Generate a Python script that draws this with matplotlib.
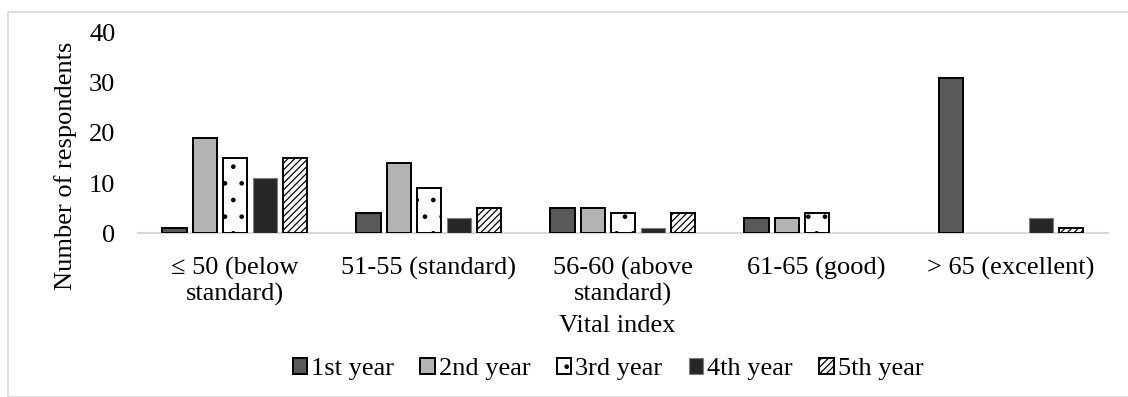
import matplotlib
matplotlib.use("Agg")
import matplotlib.pyplot as plt
import numpy as np

categories = ["\u2264 50 (below\nstandard)", "51-55 (standard)", "56-60 (above\nstandard)",
              "61-65 (good)", "> 65 (excellent)"]
series = ["1st year", "2nd year", "3rd year", "4th year", "5th year"]
year1 = [1, 4, 5, 3, 31]
year2 = [19, 14, 5, 3, 0]
year3 = [15, 9, 4, 4, 0]
year4 = [11, 3, 1, 0, 3]
year5 = [15, 5, 4, 0, 1]
values = [year1, year2, year3, year4, year5]

faces = ["#595959", "#b3b3b3", "white", "#262626", "white"]
edges = ["black", "black", "black", "#7f7f7f", "black"]
hatches = [None, None, ".", None, "/////"]

plt.rcParams["font.family"] = ["Liberation Serif", "DejaVu Serif"]
plt.rcParams["hatch.linewidth"] = 0.9
FS = 19

fig = plt.figure(figsize=(11.28, 3.97), dpi=100)
fig.patches.append(plt.Rectangle((8 / 1128, 0), 1.0, 1 - 12 / 397, transform=fig.transFigure,
                                 fill=False, edgecolor="#d9d9d9", linewidth=1.2))
ax = fig.add_axes([0.122, 0.413, 0.860, 0.504])

x = np.arange(len(categories))
w = 0.124
step = 0.155
for i, (vals, name) in enumerate(zip(values, series)):
    off = (i - 2) * step
    v = np.array(vals, dtype=float)
    v[v == 0] = np.nan  # Excel draws nothing for zero values
    ax.bar(x + off, v, w, color=faces[i], edgecolor=edges[i],
           linewidth=1.4 if i != 3 else 0.8, hatch=hatches[i], label=name, zorder=3)

ax.set_xlim(-0.5, len(categories) - 0.5)
ax.set_ylim(0, 40)
ax.set_yticks([0, 10, 20, 30, 40])
ax.set_xticks(x)
ax.set_xticklabels(categories, linespacing=1.2)
ax.tick_params(axis="both", length=0, labelsize=FS)
ax.tick_params(axis="y", pad=16)
ax.tick_params(axis="x", pad=17)
for s in ["top", "right", "left"]:
    ax.spines[s].set_visible(False)
ax.spines["bottom"].set_color("#d9d9d9")
ax.spines["bottom"].set_linewidth(1.5)

fig.text(66 / 1128, 1 - 166 / 397, "Number of respondents", rotation=90,
         ha="center", va="center", fontsize=FS)
fig.text(0.5 * (0.122 + 0.982) - 0.005, 1 - 326 / 397, "Vital index",
         ha="center", va="center", fontsize=FS)

ax.legend(loc="center", bbox_to_anchor=(608 / 1128, 1 - 369 / 397), bbox_transform=fig.transFigure,
          ncol=5, frameon=False, fontsize=FS, handlelength=0.55, handleheight=0.55,
          handletextpad=0.15, columnspacing=1.0, borderpad=0)

fig.savefig("out.png", dpi=100)
